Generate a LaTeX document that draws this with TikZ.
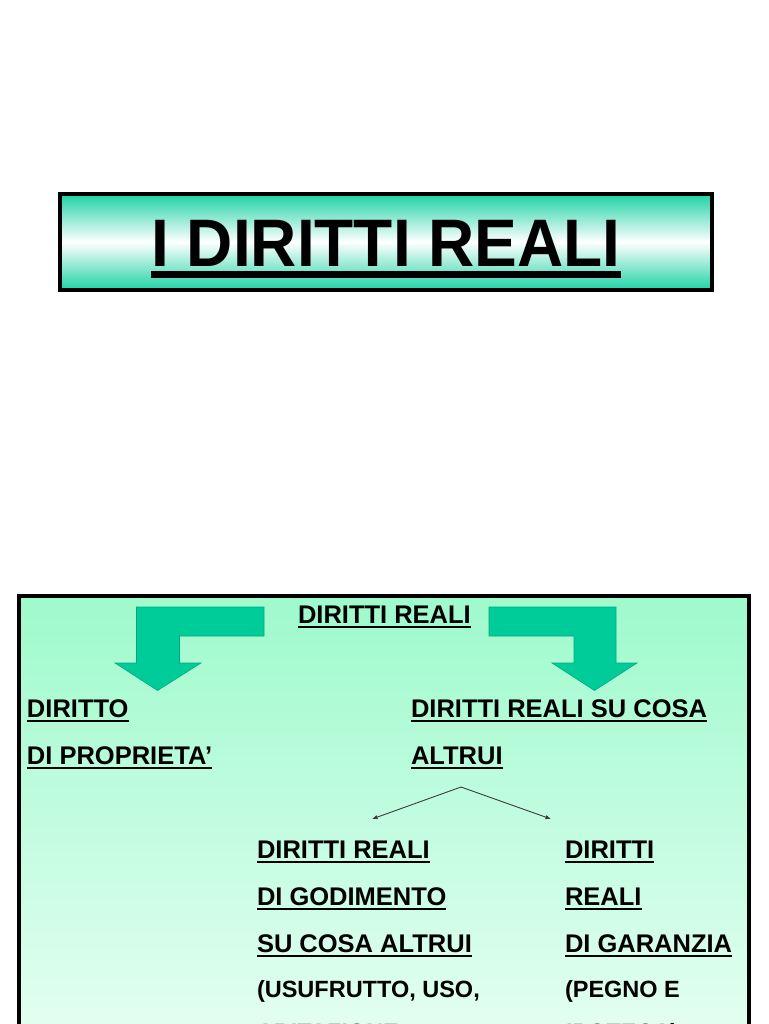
\documentclass[tikz,border=0pt]{standalone}
\usepackage{fontspec}
\setmainfont{Liberation Sans}
\usetikzlibrary{arrows.meta}
\definecolor{titleteal}{RGB}{30,210,165}
\definecolor{boxtop}{RGB}{158,250,204}
\definecolor{boxbot}{RGB}{238,255,248}
\definecolor{arrowfill}{RGB}{0,204,153}
\definecolor{arrowline}{RGB}{0,170,128}
\definecolor{thinline}{RGB}{60,60,60}
\newcommand\myul[1]{\setbox0=\hbox{#1}\rlap{\rule[-5pt]{\wd0}{2.2pt}}\box0}
\newcommand\mytitleul[1]{\setbox0=\hbox{#1}\rlap{\rule[-11pt]{\wd0}{6pt}}\box0}
\tikzset{
  lbl/.style={anchor=base west, inner sep=0pt, outer sep=0pt, font=\fontsize{25.5}{30}\selectfont\bfseries},
  smalllbl/.style={lbl, font=\fontsize{23.5}{28}\selectfont\bfseries},
  blockarrow/.style={fill=arrowfill, draw=arrowline, line width=0.6pt},
  thinarrow/.style={draw=thinline, line width=0.9pt, -{Latex[length=5.5pt,width=4.5pt]}},
}
\begin{document}
\begin{tikzpicture}[x=1pt,y=-1pt]
\clip (0,0) rectangle (768,1024);
\fill[white] (0,0) rectangle (768,1024);
% title box
\node[draw=black, line width=4pt, top color=titleteal, bottom color=titleteal, middle color=white,
      minimum width=652pt, minimum height=96pt, inner sep=0pt, anchor=north west] (titlebox) at (58,192) {};
\node[anchor=base, inner sep=0pt, font=\fontsize{64}{70}\selectfont\bfseries] (title) at (386,266)
  {\scalebox{1}[1.05]{\mytitleul{I DIRITTI REALI}}};
% lower box
\path[draw=black, line width=4pt, top color=boxtop, bottom color=boxbot] (19,595.5) rectangle (748.5,1100);
\coordinate (boxcorner) at (19,595.5);
% block arrows
\path[blockarrow] (264,607) -- (136.5,607) -- (136.5,663) -- (115,663) -- (157.5,690.5) -- (201,663) -- (179.5,663) -- (179.5,636) -- (264,636) -- cycle;
\path[blockarrow] (489,607) -- (616,607) -- (616,663) -- (637,663) -- (594.5,690.5) -- (552,663) -- (574,663) -- (574,636) -- (489,636) -- cycle;
% labels
\node[lbl] (root) at (298,623) {\myul{DIRITTI REALI}};
\node[lbl] (prop1) at (27,717) {\myul{DIRITTO}};
\node[lbl] (prop2) at (27,764) {\myul{DI PROPRIETA’}};
\node[lbl] (altrui1) at (411,717) {\myul{DIRITTI REALI SU COSA}};
\node[lbl] (altrui2) at (411,764) {\myul{ALTRUI}};
\node[lbl] (god1) at (257,858) {\myul{DIRITTI REALI}};
\node[lbl] (god2) at (257,905) {\myul{DI GODIMENTO}};
\node[lbl] (god3) at (257,952) {\myul{SU COSA ALTRUI}};
\node[smalllbl] (god4) at (257,997) {(USUFRUTTO, USO,};
\node[smalllbl] (god5) at (257,1040) {ABITAZIONE};
\node[lbl] (gar1) at (565,858) {\myul{DIRITTI}};
\node[lbl] (gar2) at (565,905) {\myul{REALI}};
\node[lbl] (gar3) at (565,952) {\myul{DI GARANZIA}};
\node[smalllbl] (gar4) at (565,997) {(PEGNO E};
\node[smalllbl] (gar5) at (566,1040) {IPOTECA)};
% thin arrows
\coordinate (apex) at (461,787);
\coordinate (lefttip) at (372,819);
\coordinate (righttip) at (551,819);
\draw[thinarrow] (apex) -- (lefttip);
\draw[thinarrow] (apex) -- (righttip);
\end{tikzpicture}
\end{document}
